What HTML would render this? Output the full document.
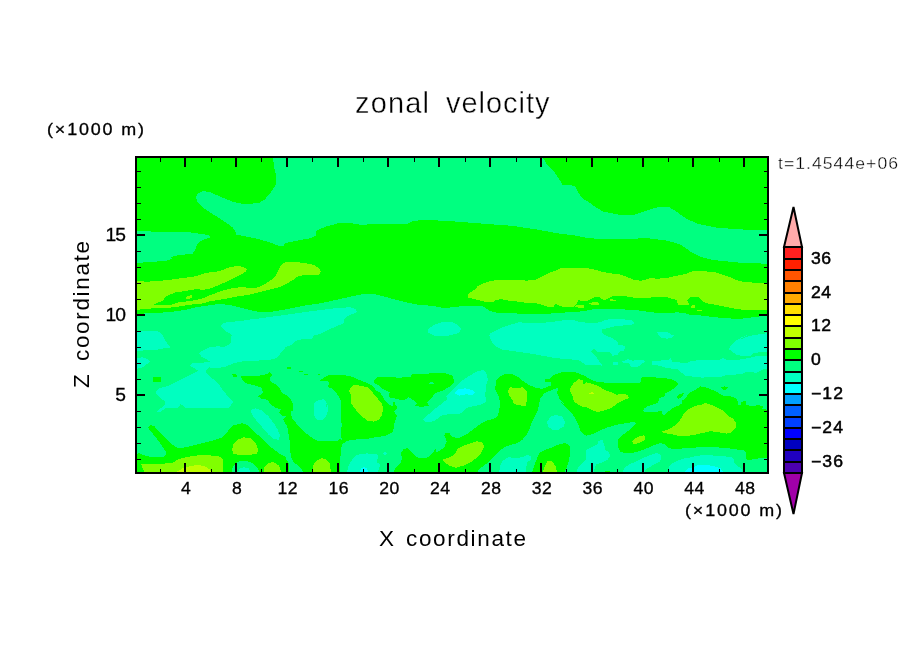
<!DOCTYPE html>
<html lang="en"><head><meta charset="utf-8"><title>zonal velocity</title>
<style>
html,body{margin:0;padding:0;background:#fff;}
body{width:904px;height:654px;overflow:hidden;}
svg{display:block;}
text{font-family:"Liberation Sans",sans-serif;fill:#000;}
.thin{stroke:#fff;stroke-width:0.4px;}
.thin2{stroke:#fff;stroke-width:0.3px;}
.med{stroke:none;}
.hvy{stroke:#000;stroke-width:0.3px;}
.hvy2{stroke:#000;stroke-width:0.45px;}
</style></head><body>
<svg width="904" height="654" viewBox="0 0 904 654" shape-rendering="crispEdges">
<rect x="0" y="0" width="904" height="654" fill="#fff"/>
<defs><clipPath id="pc"><rect x="136" y="157" width="632" height="316"/></clipPath></defs>
<g clip-path="url(#pc)">
<rect x="136" y="157" width="632" height="316" fill="#00ff80"/>
<path d="M130.0 150.0 L775.0 150.0 L775.0 315.6 L768.3 315.6 L758.5 316.5 L751.1 317.5 L742.6 318.5 L734.0 318.7 L724.2 318.1 L714.5 317.2 L707.1 316.2 L699.8 315.3 L690.0 314.8 L685.6 313.4 L677.3 312.3 L669.0 313.1 L655.7 312.8 L645.7 311.4 L635.8 310.1 L622.5 309.4 L612.5 308.5 L602.6 308.5 L592.6 309.4 L586.0 310.6 L578.7 311.8 L568.7 312.3 L555.5 313.1 L542.2 314.4 L528.9 314.4 L515.6 313.4 L504.0 313.4 L494.1 312.3 L489.1 310.6 L485.8 308.1 L482.5 306.1 L460.9 306.1 L455.9 307.3 L442.6 307.8 L436.0 306.5 L428.7 305.6 L418.7 304.8 L408.8 302.8 L395.5 299.8 L385.6 296.8 L375.6 294.3 L362.3 294.3 L352.4 296.2 L342.4 298.5 L332.5 300.7 L319.2 303.5 L307.6 305.1 L296.0 307.3 L286.0 309.4 L278.7 310.6 L268.7 312.3 L258.8 311.8 L248.8 309.8 L238.9 307.3 L228.9 304.8 L219.0 304.0 L207.3 305.6 L195.7 307.3 L185.8 309.8 L172.5 311.8 L159.2 312.8 L146.0 313.4 L136.0 313.9 L130.0 313.9Z" fill="#00ff00"/>
<path d="M153.4 377.3 L160.9 377.3 L160.9 381.5 L153.4 381.5Z" fill="#00ff00"/>
<path d="M231.4 374.0 L236.4 374.5 L237.2 377.3 L233.9 377.3Z" fill="#00ff00"/>
<path d="M286.8 367.4 L291.0 367.0 L291.0 369.0 L286.8 369.0Z" fill="#00ff00"/>
<path d="M299.3 370.7 L302.6 370.7 L302.6 371.7 L299.3 371.7Z" fill="#00ff00"/>
<path d="M304.3 374.0 L307.6 374.0 L307.6 375.0 L304.3 375.0Z" fill="#00ff00"/>
<path d="M317.9 374.0 L319.7 374.0 L319.7 375.0 L317.9 375.0Z" fill="#00ff00"/>
<path d="M240.5 376.5 L248.8 375.7 L258.8 375.7 L267.1 374.0 L269.6 372.3 L272.1 374.8 L269.6 378.1 L271.2 382.3 L277.0 384.8 L280.4 389.8 L282.8 393.9 L286.0 394.7 L291.0 399.7 L293.5 404.7 L292.6 410.5 L290.5 412.1 L292.4 418.6 L283.3 419.9 L284.0 418.0 L286.6 416.0 L282.0 416.0 L279.4 412.8 L280.7 409.5 L275.5 407.6 L270.3 404.3 L267.7 399.8 L261.2 398.5 L257.3 395.9 L258.0 396.4 L262.9 393.1 L262.1 388.1 L255.5 385.6 L245.5 383.1 L240.5 377.3Z" fill="#00ff00"/>
<path d="M283.3 419.9 L292.4 418.6 L297.6 425.1 L304.1 431.6 L310.6 436.8 L318.4 441.4 L328.8 441.4 L337.9 440.7 L341.2 438.1 L342.4 444.0 L340.8 449.8 L340.4 458.1 L339.9 474.7 L304.3 474.7 L300.9 468.0 L296.0 463.9 L295.0 464.1 L291.1 457.6 L290.1 449.8 L289.8 442.0 L288.5 434.2 L287.2 426.4Z" fill="#00ff00"/>
<path d="M341.1 434.8 L341.6 424.9 L341.1 413.3 L340.8 400.0 L341.6 403.0 L339.1 397.2 L335.8 392.2 L332.5 388.9 L327.5 386.8 L329.5 383.1 L327.5 380.6 L320.0 381.1 L320.0 380.6 L324.2 377.3 L330.8 374.5 L342.4 374.8 L352.4 376.8 L359.0 379.8 L367.3 383.1 L372.3 385.6 L376.4 390.6 L380.6 393.1 L383.9 398.9 L388.9 404.7 L393.9 406.3 L398.0 405.5 L395.5 408.8 L392.2 412.2 L391.4 415.0 L393.9 400.0 L395.5 405.0 L397.2 408.3 L393.9 411.6 L397.2 415.8 L394.7 421.6 L393.9 428.2 L392.2 432.4 L385.6 435.7 L375.6 437.3 L365.6 439.0 L355.7 439.5 L347.4 440.7 L342.4 444.0Z" fill="#00ff00"/>
<path d="M132.7 455.6 L139.3 453.1 L142.6 454.8 L147.6 456.4 L157.6 457.2 L165.0 456.4 L166.7 453.1 L163.4 448.1 L159.2 441.5 L154.3 435.7 L150.9 431.5 L147.9 427.4 L150.1 424.9 L154.3 426.2 L159.2 431.5 L165.9 438.2 L172.5 444.8 L177.5 448.1 L185.8 447.3 L195.7 444.8 L205.7 442.3 L215.6 439.8 L222.3 437.3 L226.4 433.2 L229.8 428.2 L233.9 425.2 L242.2 423.2 L247.2 424.9 L252.2 429.9 L258.8 435.7 L265.4 442.3 L272.1 448.1 L278.7 453.1 L286.0 457.2 L285.9 458.9 L288.5 462.8 L289.2 474.5 L132.7 476.3Z" fill="#00ff00"/>
<path d="M373.9 380.6 L377.3 377.3 L385.6 376.5 L398.8 377.8 L410.4 376.8 L412.1 374.0 L420.4 374.5 L428.7 373.5 L436.0 373.2 L446.0 373.5 L452.6 375.7 L454.3 382.3 L450.1 386.4 L442.6 390.6 L436.0 392.7 L430.4 398.9 L427.0 402.2 L428.7 405.5 L423.7 406.7 L414.6 406.3 L417.1 403.0 L413.8 400.5 L408.8 397.2 L403.0 400.5 L398.8 399.4 L388.9 397.2 L389.7 392.2 L383.9 389.8 L378.9 385.6 L373.9 383.1Z" fill="#00ff00"/>
<path d="M495.7 380.6 L502.4 374.8 L510.7 373.5 L517.3 376.5 L522.3 380.6 L528.9 384.8 L535.6 387.8 L542.2 388.9 L546.3 387.3 L544.7 392.2 L543.9 393.9 L540.5 398.1 L538.9 404.7 L538.0 409.7 L535.6 415.0 L538.0 408.3 L535.6 414.9 L532.2 421.6 L529.8 428.2 L526.4 434.8 L522.3 439.8 L517.3 443.1 L510.7 444.8 L504.0 447.3 L499.1 451.4 L494.1 456.4 L489.1 461.4 L484.1 465.5 L479.1 468.9 L475.8 474.7 L436.0 474.7 L436.0 452.3 L440.1 450.6 L444.3 447.3 L446.8 441.5 L444.3 435.7 L446.0 432.4 L449.3 433.2 L452.6 437.3 L459.2 437.8 L465.9 434.8 L472.5 429.9 L479.1 424.9 L485.8 420.7 L492.4 419.1 L497.4 416.6 L499.1 411.6 L499.9 405.0 L499.9 400.0 L499.9 401.4 L498.2 394.7 L495.4 389.8 L495.7 381.5Z" fill="#00ff00"/>
<path d="M392.2 474.7 L395.5 468.0 L400.5 463.1 L402.2 458.1 L400.5 453.1 L403.8 448.9 L408.0 448.1 L410.4 451.4 L413.8 454.8 L418.7 458.1 L425.4 458.1 L430.4 455.6 L433.7 451.4 L436.0 448.9 L437.0 474.7Z" fill="#00ff00"/>
<path d="M542.2 388.9 L546.3 387.3 L550.5 385.6 L550.5 382.3 L544.7 381.5 L545.5 378.5 L550.5 378.5 L553.8 374.8 L562.1 372.3 L575.4 372.3 L582.0 374.8 L586.0 376.5 L589.3 379.0 L596.0 381.5 L605.9 382.8 L619.2 383.1 L634.1 383.5 L640.8 382.3 L641.6 377.3 L652.4 377.3 L662.3 377.8 L670.6 379.0 L675.6 381.5 L678.9 383.9 L688.9 393.1 L695.5 389.8 L700.5 386.4 L705.5 387.3 L712.1 389.8 L718.7 393.1 L723.7 396.1 L730.4 396.4 L736.0 398.1 L737.7 401.6 L738.3 404.7 L741.4 405.3 L740.7 402.9 L743.8 401.0 L746.2 401.6 L745.6 404.7 L751.1 405.9 L758.5 405.3 L763.4 405.9 L762.1 408.4 L773.2 411.4 L773.2 457.5 L760.9 458.1 L753.6 459.3 L747.5 459.9 L745.6 457.5 L745.6 452.6 L743.8 449.5 L740.1 450.1 L734.0 448.9 L724.2 447.9 L714.5 447.1 L705.9 447.1 L697.3 447.4 L690.0 448.3 L685.6 448.1 L675.6 449.4 L669.0 448.1 L665.6 444.8 L660.7 442.8 L655.7 444.5 L649.1 447.3 L640.8 450.6 L632.5 453.1 L625.0 453.4 L620.0 451.4 L617.5 446.5 L617.5 440.7 L621.7 435.7 L627.5 431.5 L632.5 427.4 L635.8 423.2 L634.1 421.9 L625.8 423.2 L615.9 424.9 L607.6 427.4 L599.3 430.7 L592.6 434.0 L586.0 435.7 L583.7 434.0 L580.4 430.7 L577.9 423.2 L573.7 415.8 L568.7 410.0 L563.8 405.0 L558.8 400.0 L570.4 410.5 L564.6 404.7 L559.6 398.9 L557.1 393.1 L558.0 387.8 L552.2 389.8 L544.7 393.1 L542.2 389.8Z" fill="#00ff00"/>
<path d="M531.4 474.7 L533.9 466.4 L537.2 458.1 L539.7 452.3 L545.5 449.8 L552.2 447.3 L558.8 444.5 L565.4 443.1 L569.6 445.6 L570.1 453.1 L568.7 461.4 L567.1 466.4 L563.8 474.7Z" fill="#00ff00"/>
<path d="M602.6 473.0 L605.9 470.5 L610.1 471.3 L610.9 473.0Z" fill="#00ff00"/>
<path d="M273.0 150.0 L542.5 150.0 L542.5 157.0 L547.0 164.5 L554.5 172.0 L559.5 179.5 L562.0 184.5 L574.5 185.8 L578.2 192.0 L582.0 198.2 L588.0 201.5 L595.5 207.0 L603.0 211.5 L618.0 214.5 L635.5 214.5 L648.0 210.0 L660.5 206.5 L668.0 206.5 L675.5 210.8 L685.5 218.2 L698.0 224.0 L718.0 227.8 L743.0 229.5 L773.0 229.5 L773.0 264.0 L738.0 262.5 L713.0 260.0 L700.5 257.0 L690.5 251.5 L680.5 244.5 L668.0 240.8 L648.0 238.2 L623.0 239.0 L603.0 239.0 L588.0 238.2 L577.0 235.8 L557.0 233.2 L537.0 229.5 L512.0 225.8 L487.0 224.0 L462.0 222.0 L444.5 220.8 L427.0 220.0 L413.2 220.8 L407.0 224.0 L372.0 224.0 L362.0 225.0 L351.0 223.2 L338.5 223.2 L326.0 226.5 L316.0 230.8 L315.5 235.8 L311.0 238.2 L296.0 240.8 L284.8 243.2 L284.0 245.8 L279.8 246.2 L271.0 242.8 L258.5 239.0 L246.0 236.5 L236.0 234.5 L235.2 230.8 L232.2 227.0 L223.5 220.8 L213.5 214.5 L203.5 208.2 L197.2 202.0 L196.0 197.0 L198.0 193.2 L203.5 191.0 L211.0 192.5 L221.0 197.0 L233.5 202.0 L243.5 204.0 L258.5 203.2 L264.8 199.5 L271.0 192.0 L276.0 184.5 L276.5 177.0 L274.0 167.0 L273.0 157.0Z" fill="#00ff80"/>
<path d="M131.0 230.2 L151.0 231.5 L171.0 231.5 L191.0 232.5 L208.5 235.0 L211.0 237.0 L201.0 240.8 L197.2 244.5 L194.8 250.8 L192.2 254.0 L178.5 255.0 L171.0 257.0 L172.2 259.0 L166.0 260.8 L151.0 262.0 L131.0 263.2Z" fill="#00ff80"/>
<path d="M428.7 383.9 L432.0 381.1 L435.3 384.4Z" fill="#00ff80"/>
<path d="M252.2 389.8 L253.8 389.8 L253.8 393.1 L252.2 393.1Z" fill="#00ff80"/>
<path d="M675.6 381.5 L678.9 383.9 L675.6 387.3 L670.6 390.6 L665.6 393.1 L664.0 396.7 L659.0 398.1 L658.2 403.0 L652.4 404.7 L647.4 406.3 L644.1 408.8 L643.2 410.0 L644.1 411.6 L649.1 412.4 L655.7 411.9 L662.3 410.8 L661.5 413.3 L664.0 415.8 L667.3 412.4 L672.3 408.3 L678.1 405.8 L682.2 403.3 L683.1 400.0 L683.1 403.9 L682.2 400.5 L685.6 398.1 L688.9 393.1 L695.5 389.8 L700.5 386.4Z" fill="#00ff80"/>
<path d="M230.6 474.7 L233.1 466.4 L238.0 461.7 L245.5 460.6 L252.2 463.1 L258.0 468.4 L260.4 474.7Z" fill="#00ff80"/>
<path d="M676.4 397.2 L679.8 393.9 L683.9 393.1 L683.1 395.6 L678.9 398.9Z" fill="#00ff00"/>
<path d="M721.2 387.8 L724.6 386.4 L727.9 387.8 L725.4 389.8 L722.9 389.8Z" fill="#00ff00"/>
<path d="M721.2 387.3 L724.2 386.4 L727.9 387.6 L724.9 389.8Z" fill="#00ff00"/>
<path d="M132.7 281.2 L147.6 281.6 L155.9 281.2 L169.2 279.9 L180.8 278.3 L194.1 276.6 L205.7 272.9 L219.0 271.3 L228.9 267.5 L237.2 265.8 L243.9 267.0 L246.8 269.6 L245.5 271.9 L238.9 275.8 L228.9 280.7 L219.0 284.9 L209.0 289.0 L202.4 289.9 L197.4 289.0 L190.8 289.9 L184.1 291.2 L175.8 292.4 L169.2 294.8 L165.0 297.3 L163.4 300.7 L157.6 302.8 L153.4 304.8 L160.9 304.5 L170.8 304.8 L179.1 302.3 L185.8 301.5 L192.4 300.7 L202.4 298.5 L209.0 295.7 L215.6 293.2 L222.3 290.7 L230.6 288.5 L238.9 287.4 L245.5 287.4 L250.5 288.2 L255.5 288.2 L262.1 285.7 L268.7 281.6 L273.7 278.3 L277.0 273.3 L280.4 266.6 L282.8 263.3 L286.0 262.0 L296.0 262.0 L305.9 263.3 L314.2 265.0 L319.2 268.3 L320.8 271.9 L318.4 275.3 L310.9 275.3 L302.6 275.3 L297.6 276.6 L292.6 280.2 L286.0 284.1 L278.7 287.4 L268.7 289.9 L258.8 292.4 L248.8 294.8 L238.9 296.2 L228.9 298.2 L219.0 299.8 L209.0 301.5 L202.4 303.5 L192.4 304.5 L184.1 305.6 L174.2 307.3 L160.9 308.1 L150.9 308.5 L142.6 309.4 L132.7 309.8Z" fill="#80ff00"/>
<path d="M185.8 297.8 L188.3 295.7 L191.6 295.2 L192.1 297.8 L189.1 299.0 L185.8 299.0Z" fill="#80ff00"/>
<path d="M467.5 296.2 L469.2 293.2 L474.2 289.9 L477.5 286.5 L484.1 283.2 L490.8 280.7 L507.3 279.6 L522.3 279.6 L525.6 280.7 L535.6 279.9 L542.2 276.6 L548.8 272.9 L555.5 270.8 L560.4 268.0 L586.0 268.0 L592.6 269.1 L602.6 271.9 L610.9 273.3 L620.8 274.6 L625.8 276.6 L634.1 279.9 L640.8 280.7 L645.7 279.6 L649.9 278.3 L657.3 278.6 L665.6 278.3 L672.3 276.6 L678.9 275.3 L685.6 274.1 L692.2 271.3 L705.5 271.3 L715.4 272.4 L723.7 274.9 L730.4 277.4 L736.0 279.9 L736.5 280.2 L743.8 281.8 L753.6 282.6 L775.6 282.6 L775.6 308.9 L760.9 309.9 L753.6 310.1 L743.8 309.9 L736.5 308.9 L726.7 307.1 L716.9 305.0 L707.1 303.4 L702.2 301.0 L698.6 297.3 L690.0 296.7 L689.7 297.8 L687.2 300.7 L689.7 304.8 L678.1 304.5 L676.4 299.8 L672.3 299.0 L667.3 297.3 L659.0 296.8 L652.4 296.8 L649.1 298.2 L642.4 298.5 L635.8 298.2 L630.8 296.8 L622.5 296.2 L612.5 296.2 L609.2 297.8 L605.9 299.8 L602.6 299.5 L599.3 297.3 L594.3 297.3 L589.3 299.8 L586.0 301.5 L582.0 301.2 L578.4 299.8 L577.0 303.5 L573.7 306.5 L568.7 307.3 L562.1 306.5 L555.5 304.0 L553.0 307.3 L548.8 307.3 L542.2 304.8 L535.6 303.1 L528.9 303.5 L520.6 301.8 L509.0 300.7 L500.7 299.0 L495.7 300.2 L492.4 302.3 L484.1 301.5 L475.8 299.5 L467.5 297.3Z" fill="#80ff00"/>
<path d="M589.3 303.5 L592.6 302.3 L598.4 302.3 L598.9 304.5 L592.6 305.1Z" fill="#80ff00"/>
<path d="M609.2 299.0 L615.9 299.8 L616.7 301.2 L610.9 301.2Z" fill="#80ff00"/>
<path d="M691.4 305.6 L694.7 305.1 L694.7 307.8 L691.4 307.8Z" fill="#80ff00"/>
<path d="M697.2 309.8 L702.2 309.8 L702.2 310.8 L697.2 310.8Z" fill="#80ff00"/>
<path d="M573.7 307.1 L577.0 305.1 L583.7 305.1 L584.5 307.5 L578.7 307.6Z" fill="#80ff00"/>
<path d="M141.0 463.9 L149.3 464.4 L160.9 463.9 L172.5 462.7 L179.1 458.9 L185.8 457.2 L192.4 456.1 L202.4 454.8 L212.3 455.6 L220.6 456.7 L223.1 459.7 L223.1 474.7 L145.1 474.7 L142.6 468.0Z" fill="#80ff00"/>
<path d="M232.2 449.8 L233.1 444.8 L237.2 439.8 L243.9 437.3 L250.5 438.2 L255.5 443.1 L258.0 448.9 L257.1 453.9 L248.8 454.8 L238.9 454.8 L233.1 453.9Z" fill="#80ff00"/>
<path d="M263.8 474.7 L264.6 466.4 L268.7 462.7 L273.7 462.2 L278.7 465.5 L282.8 474.7Z" fill="#80ff00"/>
<path d="M349.9 388.1 L354.0 385.1 L360.7 385.6 L367.3 387.3 L372.3 392.2 L377.3 398.1 L381.4 403.0 L383.1 408.0 L383.1 406.6 L382.2 414.9 L378.9 419.9 L373.9 421.6 L367.3 420.7 L362.3 416.6 L357.3 411.6 L352.4 405.0 L350.7 403.0 L351.5 396.4 L349.1 391.4Z" fill="#80ff00"/>
<path d="M312.5 474.7 L313.4 464.7 L316.7 460.6 L321.7 458.1 L326.7 459.7 L330.0 463.9 L331.1 474.7Z" fill="#80ff00"/>
<path d="M508.2 390.6 L509.8 387.3 L519.0 388.1 L522.3 387.3 L527.3 391.4 L527.3 398.1 L525.6 405.5 L520.6 405.5 L514.0 403.9 L512.3 399.7 L509.0 395.6Z" fill="#80ff00"/>
<path d="M442.6 459.7 L447.6 458.1 L454.3 454.8 L457.6 448.9 L464.2 445.6 L470.8 443.1 L477.5 441.2 L482.5 442.8 L484.1 446.5 L481.6 452.3 L477.5 457.2 L470.8 462.2 L464.2 465.5 L455.9 467.7 L449.3 465.5 L444.3 462.2Z" fill="#80ff00"/>
<path d="M542.2 474.7 L544.7 466.4 L548.0 460.6 L552.2 461.1 L555.5 466.4 L558.0 474.7Z" fill="#80ff00"/>
<path d="M570.4 388.1 L573.7 383.1 L578.7 379.0 L583.7 380.6 L582.8 384.8 L586.0 383.1 L586.0 382.3 L592.6 383.9 L599.3 386.4 L604.3 389.8 L610.9 392.2 L615.9 394.7 L624.2 393.9 L628.3 395.6 L628.8 398.1 L624.2 400.0 L619.2 402.2 L615.9 404.7 L610.9 408.0 L604.3 410.5 L597.6 412.2 L592.6 410.5 L586.0 407.2 L582.0 406.7 L578.7 404.7 L573.7 401.4 L572.9 396.4 L570.4 391.4Z" fill="#80ff00"/>
<path d="M632.5 441.5 L634.1 439.0 L639.1 436.5 L644.1 435.2 L645.7 438.2 L643.2 441.2 L637.4 443.5 L633.3 444.5Z" fill="#80ff00"/>
<path d="M662.3 431.5 L667.3 429.9 L672.3 427.4 L677.3 423.2 L681.4 418.3 L683.9 413.3 L688.9 409.1 L695.5 405.8 L702.2 404.6 L705.5 403.0 L712.1 405.3 L718.7 408.3 L723.7 410.8 L727.9 415.8 L732.0 418.3 L732.8 418.3 L735.9 422.6 L735.5 428.1 L731.6 432.4 L726.7 433.6 L719.3 432.4 L710.8 431.2 L702.2 433.0 L694.9 434.9 L690.0 435.5 L685.6 435.7 L677.3 435.7 L670.6 434.0 L664.0 433.2Z" fill="#80ff00"/>
<path d="M172.8 474.7 L177.5 471.0 L182.5 468.5 L189.1 466.4 L197.4 465.0 L204.0 466.0 L209.0 468.9 L214.0 474.7Z" fill="#c0ff00"/>
<path d="M589.3 393.1 L591.8 392.2 L594.3 393.1 L594.3 393.9 L589.3 393.9Z" fill="#c0ff00"/>
<path d="M132.7 330.5 L146.0 330.5 L157.6 331.0 L160.9 333.0 L163.4 336.3 L165.0 340.0 L167.5 344.1 L170.8 347.4 L165.9 347.9 L157.6 349.6 L146.0 350.3 L132.7 351.3Z" fill="#00ffc0"/>
<path d="M132.7 358.2 L142.6 357.4 L147.6 359.1 L150.1 361.5 L146.0 364.9 L141.0 368.2 L132.7 369.0Z" fill="#00ffc0"/>
<path d="M220.6 326.4 L223.9 323.1 L228.9 321.7 L238.9 321.4 L248.8 319.7 L262.1 318.1 L273.7 316.4 L286.0 314.8 L299.3 312.8 L312.5 311.1 L325.8 309.4 L339.1 307.8 L350.7 307.3 L355.7 309.4 L357.0 312.3 L352.4 313.9 L346.6 316.4 L344.1 320.1 L343.2 323.9 L335.8 326.4 L329.1 329.7 L322.5 333.0 L314.2 335.5 L311.7 338.8 L302.6 339.1 L296.0 340.8 L291.0 345.0 L286.0 346.9 L280.4 353.3 L277.0 358.2 L268.7 359.9 L255.5 360.7 L242.2 361.5 L233.9 363.2 L225.6 366.5 L217.3 368.2 L209.0 367.4 L205.7 371.5 L209.0 375.7 L214.0 379.8 L219.0 384.8 L223.9 391.4 L228.1 396.4 L233.1 402.2 L228.9 408.0 L185.8 408.0 L180.8 404.1 L178.3 407.5 L169.2 407.5 L165.9 408.0 L160.9 411.6 L155.9 412.4 L160.9 408.0 L165.0 404.7 L165.0 401.4 L159.2 397.2 L155.1 393.1 L159.2 388.1 L167.5 386.1 L174.2 383.1 L180.8 379.8 L187.4 376.5 L194.1 373.2 L198.2 370.7 L194.1 368.2 L189.9 365.7 L192.4 363.5 L202.4 362.9 L209.8 361.5 L207.3 359.9 L201.5 356.6 L199.1 353.3 L202.4 350.8 L210.7 346.9 L219.0 346.3 L223.1 347.4 L228.1 345.0 L231.4 341.6 L230.6 338.3 L232.2 335.0 L225.6 331.3Z" fill="#00ffc0"/>
<path d="M250.5 410.0 L255.5 408.3 L262.1 410.3 L268.7 416.6 L273.7 423.2 L277.9 429.9 L280.0 435.7 L278.7 439.8 L273.7 439.0 L268.7 434.8 L263.8 429.0 L258.0 422.4 L253.0 416.6Z" fill="#00ffc0"/>
<path d="M314.2 408.0 L314.2 403.0 L319.2 399.7 L324.2 399.4 L326.7 403.0 L325.8 408.0 L327.5 405.0 L327.5 411.6 L325.8 416.6 L322.5 419.6 L316.7 419.6 L314.2 415.8 L314.5 406.6Z" fill="#00ffc0"/>
<path d="M237.2 474.7 L239.7 468.4 L243.9 467.2 L248.8 468.4 L252.2 474.7Z" fill="#00ffc0"/>
<path d="M346.6 474.7 L348.2 466.4 L351.5 460.6 L355.7 455.6 L360.7 453.9 L367.3 453.4 L377.3 454.4 L378.1 457.2 L376.4 462.2 L380.6 464.7 L378.9 468.9 L376.4 474.7Z" fill="#00ffc0"/>
<path d="M383.1 453.1 L385.6 451.8 L387.2 453.9 L384.7 455.6Z" fill="#00ffc0"/>
<path d="M432.0 326.4 L427.9 328.9 L428.4 333.0 L436.0 336.3 L446.0 336.3 L452.6 334.7 L459.2 333.0 L460.9 328.9 L457.6 324.7 L452.6 322.2 L442.6 322.2 L436.0 323.9Z" fill="#00ffc0"/>
<path d="M488.3 337.2 L490.8 333.0 L497.4 329.7 L502.4 327.2 L510.7 324.7 L519.0 322.2 L528.9 323.1 L543.9 322.7 L555.5 321.4 L565.4 320.1 L573.7 320.1 L578.7 321.7 L586.0 322.7 L592.6 323.1 L600.9 322.2 L605.9 319.7 L614.2 318.9 L624.2 319.4 L632.5 320.6 L634.9 323.1 L630.8 325.0 L622.5 325.5 L615.9 326.0 L607.6 328.0 L601.8 329.4 L601.8 333.0 L607.6 336.3 L612.5 338.3 L617.5 341.6 L618.4 345.0 L625.0 345.8 L624.2 350.8 L619.2 351.6 L617.5 354.9 L612.5 355.7 L609.2 351.6 L604.3 352.4 L597.6 352.4 L594.3 348.3 L591.0 351.6 L596.0 356.6 L599.3 361.5 L602.6 365.7 L596.0 364.9 L586.0 364.5 L586.0 365.7 L580.4 360.7 L568.7 359.1 L555.5 358.2 L542.2 355.7 L528.9 353.3 L514.0 351.3 L502.4 349.6 L495.7 346.6 L491.6 341.6 L489.1 335.0Z" fill="#00ffc0"/>
<path d="M436.0 408.0 L442.6 403.0 L447.6 398.9 L446.0 396.4 L450.9 391.4 L457.6 384.8 L464.2 379.0 L472.5 374.0 L479.1 370.7 L484.1 370.2 L486.6 374.0 L487.8 379.8 L485.8 386.4 L485.4 394.7 L485.8 401.4 L484.1 403.3 L479.1 405.0 L472.5 406.3 L465.9 408.0 L462.5 412.4 L459.2 414.1 L449.3 414.1 L441.0 415.8 L436.0 419.9 L430.4 422.4 L425.4 422.4 L422.9 419.1 L427.0 415.8Z" fill="#00ffc0"/>
<path d="M547.2 421.6 L550.5 416.6 L555.5 414.9 L562.1 416.6 L565.1 421.6 L563.8 426.5 L558.8 429.5 L552.2 429.5 L548.0 426.5Z" fill="#00ffc0"/>
<path d="M499.1 474.7 L499.9 466.4 L502.4 460.6 L509.0 457.2 L515.6 458.1 L522.3 457.2 L527.3 454.8 L531.4 456.4 L530.6 459.7 L527.3 462.2 L526.4 466.4 L525.6 474.7Z" fill="#00ffc0"/>
<path d="M575.4 474.7 L578.7 466.4 L582.8 463.1 L586.0 458.9 L586.0 449.8 L592.6 446.5 L597.6 444.0 L598.4 440.7 L602.6 440.2 L604.3 444.8 L605.1 449.8 L609.2 452.3 L610.1 456.4 L607.6 459.7 L602.6 462.2 L596.0 464.7 L592.6 474.7Z" fill="#00ffc0"/>
<path d="M621.7 474.7 L624.2 468.0 L629.1 464.7 L635.8 461.4 L642.4 458.1 L649.1 455.6 L655.7 453.1 L659.8 453.9 L661.5 457.2 L659.8 461.4 L655.7 463.9 L650.7 466.4 L645.7 469.7 L643.2 474.7Z" fill="#00ffc0"/>
<path d="M667.3 474.7 L669.0 466.4 L673.9 462.2 L682.2 458.9 L692.2 457.2 L690.0 457.5 L697.3 455.6 L705.9 455.3 L716.9 455.6 L725.5 456.5 L731.6 457.5 L734.0 459.9 L734.6 463.6 L737.7 466.0 L741.4 468.5 L742.6 475.8Z" fill="#00ffc0"/>
<path d="M613.4 361.5 L617.5 361.5 L617.5 364.5 L613.4 364.5Z" fill="#00ffc0"/>
<path d="M622.5 361.5 L627.5 359.1 L632.5 360.7 L642.4 359.6 L644.9 361.5 L640.8 364.9 L635.8 367.4 L630.8 366.5 L629.1 363.2 L622.5 362.4Z" fill="#00ffc0"/>
<path d="M651.5 361.5 L659.0 360.7 L669.0 359.9 L670.6 358.2 L672.3 361.5 L678.9 362.4 L687.2 363.2 L690.0 361.3 L697.3 360.4 L707.1 360.1 L718.1 360.4 L722.4 358.2 L725.5 358.8 L726.7 360.1 L736.5 360.1 L743.8 358.8 L751.1 357.6 L757.3 355.8 L763.4 356.4 L775.6 355.8 L775.6 369.0 L763.4 369.5 L759.7 371.1 L756.0 372.9 L751.1 371.7 L746.2 371.7 L741.4 374.1 L734.0 374.7 L725.5 375.4 L719.3 377.2 L712.0 377.2 L702.2 377.6 L694.9 377.2 L690.0 376.0 L685.6 375.7 L682.2 373.2 L677.3 369.0 L667.3 368.2 L659.0 365.7 L651.5 364.5Z" fill="#00ffc0"/>
<path d="M657.3 332.2 L665.6 331.7 L670.6 333.8 L673.1 336.0 L673.9 335.0 L672.3 337.5 L667.3 338.7 L660.7 337.5 L659.0 335.0 L659.0 335.5Z" fill="#00ffc0"/>
<path d="M747.5 335.0 L741.4 337.4 L736.5 340.5 L731.6 344.8 L728.5 349.1 L732.8 352.1 L736.5 354.6 L743.8 356.4 L749.9 356.4 L753.6 353.3 L759.7 352.1 L775.6 351.5 L775.6 332.1 L760.9 334.0 L753.6 335.2 L746.2 337.0 L738.9 340.0Z" fill="#00ffc0"/>
<path d="M359.0 474.7 L360.7 468.9 L364.0 467.2 L367.3 468.9 L369.0 474.7Z" fill="#00ffff"/>
<path d="M454.3 393.1 L459.2 388.9 L465.9 388.4 L471.7 389.8 L475.0 392.2 L472.5 394.7 L465.9 394.4 L459.2 395.6Z" fill="#00ffff"/>
<path d="M683.1 474.7 L687.2 468.9 L695.5 466.4 L697.3 465.4 L705.9 464.8 L713.2 466.0 L720.6 468.5 L725.5 475.8Z" fill="#00ffff"/>
</g>
<g stroke="#000" fill="none">
<rect x="136" y="157" width="632" height="316" stroke-width="2"/>
<path d="M160.5 473V469M160.5 157V162" stroke-width="1"/>
<path d="M185 473V463M185 157V167" stroke-width="2"/>
<path d="M211.5 473V469M211.5 157V162" stroke-width="1"/>
<path d="M236 473V463M236 157V167" stroke-width="2"/>
<path d="M261.5 473V469M261.5 157V162" stroke-width="1"/>
<path d="M287 473V463M287 157V167" stroke-width="2"/>
<path d="M312.5 473V469M312.5 157V162" stroke-width="1"/>
<path d="M338 473V463M338 157V167" stroke-width="2"/>
<path d="M363.5 473V469M363.5 157V162" stroke-width="1"/>
<path d="M388 473V463M388 157V167" stroke-width="2"/>
<path d="M414.5 473V469M414.5 157V162" stroke-width="1"/>
<path d="M439 473V463M439 157V167" stroke-width="2"/>
<path d="M465.5 473V469M465.5 157V162" stroke-width="1"/>
<path d="M490 473V463M490 157V167" stroke-width="2"/>
<path d="M516.5 473V469M516.5 157V162" stroke-width="1"/>
<path d="M541 473V463M541 157V167" stroke-width="2"/>
<path d="M566.5 473V469M566.5 157V162" stroke-width="1"/>
<path d="M592 473V463M592 157V167" stroke-width="2"/>
<path d="M617.5 473V469M617.5 157V162" stroke-width="1"/>
<path d="M643 473V463M643 157V167" stroke-width="2"/>
<path d="M668.5 473V469M668.5 157V162" stroke-width="1"/>
<path d="M693 473V463M693 157V167" stroke-width="2"/>
<path d="M719.5 473V469M719.5 157V162" stroke-width="1"/>
<path d="M744 473V463M744 157V167" stroke-width="2"/>
<path d="M136 459.5H141M768 459.5H764" stroke-width="1"/>
<path d="M136 443.5H141M768 443.5H764" stroke-width="1"/>
<path d="M136 427.5H141M768 427.5H764" stroke-width="1"/>
<path d="M136 411.5H141M768 411.5H764" stroke-width="1"/>
<path d="M136 395H145M768 395H759" stroke-width="2"/>
<path d="M136 379.5H141M768 379.5H764" stroke-width="1"/>
<path d="M136 363.5H141M768 363.5H764" stroke-width="1"/>
<path d="M136 347.5H141M768 347.5H764" stroke-width="1"/>
<path d="M136 331.5H141M768 331.5H764" stroke-width="1"/>
<path d="M136 315H145M768 315H759" stroke-width="2"/>
<path d="M136 299.5H141M768 299.5H764" stroke-width="1"/>
<path d="M136 283.5H141M768 283.5H764" stroke-width="1"/>
<path d="M136 267.5H141M768 267.5H764" stroke-width="1"/>
<path d="M136 251.5H141M768 251.5H764" stroke-width="1"/>
<path d="M136 235H145M768 235H759" stroke-width="2"/>
<path d="M136 219.5H141M768 219.5H764" stroke-width="1"/>
<path d="M136 203.5H141M768 203.5H764" stroke-width="1"/>
<path d="M136 187.5H141M768 187.5H764" stroke-width="1"/>
<path d="M136 171.5H141M768 171.5H764" stroke-width="1"/>
</g>
<g stroke="#000" stroke-width="2" stroke-linejoin="miter">
<rect x="784.0" y="247.00" width="18.0" height="11.87" fill="#ff2020"/>
<rect x="784.0" y="258.87" width="18.0" height="11.27" fill="#ff2000"/>
<rect x="784.0" y="270.14" width="18.0" height="11.27" fill="#ff5500"/>
<rect x="784.0" y="281.41" width="18.0" height="11.27" fill="#ff8000"/>
<rect x="784.0" y="292.68" width="18.0" height="11.27" fill="#ffaa00"/>
<rect x="784.0" y="303.95" width="18.0" height="11.27" fill="#ffe000"/>
<rect x="784.0" y="315.22" width="18.0" height="11.27" fill="#ffff00"/>
<rect x="784.0" y="326.49" width="18.0" height="11.27" fill="#c0ff00"/>
<rect x="784.0" y="337.76" width="18.0" height="11.27" fill="#80ff00"/>
<rect x="784.0" y="349.03" width="18.0" height="11.27" fill="#00ff00"/>
<rect x="784.0" y="360.30" width="18.0" height="11.27" fill="#00ff80"/>
<rect x="784.0" y="371.57" width="18.0" height="11.27" fill="#00ffc0"/>
<rect x="784.0" y="382.84" width="18.0" height="11.27" fill="#00ffff"/>
<rect x="784.0" y="394.11" width="18.0" height="11.27" fill="#00a0ff"/>
<rect x="784.0" y="405.38" width="18.0" height="11.27" fill="#0060ff"/>
<rect x="784.0" y="416.65" width="18.0" height="11.27" fill="#0040ff"/>
<rect x="784.0" y="427.92" width="18.0" height="11.27" fill="#0000ff"/>
<rect x="784.0" y="439.19" width="18.0" height="11.27" fill="#0000c0"/>
<rect x="784.0" y="450.46" width="18.0" height="11.27" fill="#2000c0"/>
<rect x="784.0" y="461.73" width="18.0" height="11.27" fill="#4c00b0"/>
</g>
<g stroke="#000" stroke-width="2" stroke-linejoin="miter" shape-rendering="auto">
<path d="M784.0 247.0L793.5 207L802.0 247.0Z" fill="#ffaaaa"/>
<path d="M784.0 473.0L793.5 514L802.0 473.0Z" fill="#a000a8"/>
</g>
<g shape-rendering="auto">
<text class="thin" transform="translate(355.0 113.0)" font-size="29"><tspan x="0.0" textLength="74.0" lengthAdjust="spacing">zonal</tspan> <tspan x="91.0" textLength="103.5" lengthAdjust="spacing">velocity</tspan></text>
<text class="hvy" transform="translate(47.0 134.5) scale(1.120 1)" font-size="16" text-anchor="start" textLength="86.6" lengthAdjust="spacing">(×1000 m)</text>
<text class="hvy" transform="translate(685.0 515.5) scale(1.120 1)" font-size="16" text-anchor="start" textLength="86.6" lengthAdjust="spacing">(×1000 m)</text>
<text class="thin2" transform="translate(778.0 169.0) scale(1.100 1)" font-size="16" text-anchor="start" textLength="109.1" lengthAdjust="spacing">t=1.4544e+06</text>
<text class="med" transform="translate(379.0 545.8)" font-size="22.5"><tspan x="0.0" textLength="15.5" lengthAdjust="spacing">X</tspan> <tspan x="27.0" textLength="120.0" lengthAdjust="spacing">coordinate</tspan></text>
<text class="med" transform="translate(89.0 388.0) rotate(-90)" font-size="22.5"><tspan x="0.0" textLength="15.5" lengthAdjust="spacing">Z</tspan> <tspan x="27.0" textLength="120.0" lengthAdjust="spacing">coordinate</tspan></text>
<text class="hvy" transform="translate(186.0 494.2) scale(1.100 1)" font-size="16" text-anchor="middle" textLength="8.6" lengthAdjust="spacing">4</text>
<text class="hvy" transform="translate(236.8 494.2) scale(1.100 1)" font-size="16" text-anchor="middle" textLength="8.6" lengthAdjust="spacing">8</text>
<text class="hvy" transform="translate(287.6 494.2) scale(1.100 1)" font-size="16" text-anchor="middle" textLength="18.2" lengthAdjust="spacing">12</text>
<text class="hvy" transform="translate(338.5 494.2) scale(1.100 1)" font-size="16" text-anchor="middle" textLength="18.2" lengthAdjust="spacing">16</text>
<text class="hvy" transform="translate(389.3 494.2) scale(1.100 1)" font-size="16" text-anchor="middle" textLength="18.2" lengthAdjust="spacing">20</text>
<text class="hvy" transform="translate(440.1 494.2) scale(1.100 1)" font-size="16" text-anchor="middle" textLength="18.2" lengthAdjust="spacing">24</text>
<text class="hvy" transform="translate(490.9 494.2) scale(1.100 1)" font-size="16" text-anchor="middle" textLength="18.2" lengthAdjust="spacing">28</text>
<text class="hvy" transform="translate(541.7 494.2) scale(1.100 1)" font-size="16" text-anchor="middle" textLength="18.2" lengthAdjust="spacing">32</text>
<text class="hvy" transform="translate(592.5 494.2) scale(1.100 1)" font-size="16" text-anchor="middle" textLength="18.2" lengthAdjust="spacing">36</text>
<text class="hvy" transform="translate(643.4 494.2) scale(1.100 1)" font-size="16" text-anchor="middle" textLength="18.2" lengthAdjust="spacing">40</text>
<text class="hvy" transform="translate(694.2 494.2) scale(1.100 1)" font-size="16" text-anchor="middle" textLength="18.2" lengthAdjust="spacing">44</text>
<text class="hvy" transform="translate(745.0 494.2) scale(1.100 1)" font-size="16" text-anchor="middle" textLength="18.2" lengthAdjust="spacing">48</text>
<text class="hvy" transform="translate(126.0 400.6) scale(1.100 1)" font-size="17.5" text-anchor="end" textLength="9.1" lengthAdjust="spacing">5</text>
<text class="hvy" transform="translate(126.0 320.6) scale(1.100 1)" font-size="17.5" text-anchor="end" textLength="18.6" lengthAdjust="spacing">10</text>
<text class="hvy" transform="translate(126.0 240.6) scale(1.100 1)" font-size="17.5" text-anchor="end" textLength="18.6" lengthAdjust="spacing">15</text>
<text class="hvy2" transform="translate(811.0 263.7) scale(1.100 1)" font-size="16" text-anchor="start" textLength="18.2" lengthAdjust="spacing">36</text>
<text class="hvy2" transform="translate(811.0 297.5) scale(1.100 1)" font-size="16" text-anchor="start" textLength="18.2" lengthAdjust="spacing">24</text>
<text class="hvy2" transform="translate(811.0 331.3) scale(1.100 1)" font-size="16" text-anchor="start" textLength="18.2" lengthAdjust="spacing">12</text>
<text class="hvy2" transform="translate(811.0 365.1) scale(1.100 1)" font-size="16" text-anchor="start" textLength="8.6" lengthAdjust="spacing">0</text>
<text class="hvy2" transform="translate(811.0 398.9) scale(1.100 1)" font-size="16" text-anchor="start" textLength="29.1" lengthAdjust="spacing">−12</text>
<text class="hvy2" transform="translate(811.0 432.7) scale(1.100 1)" font-size="16" text-anchor="start" textLength="29.1" lengthAdjust="spacing">−24</text>
<text class="hvy2" transform="translate(811.0 466.5) scale(1.100 1)" font-size="16" text-anchor="start" textLength="29.1" lengthAdjust="spacing">−36</text>
</g>
</svg></body></html>
